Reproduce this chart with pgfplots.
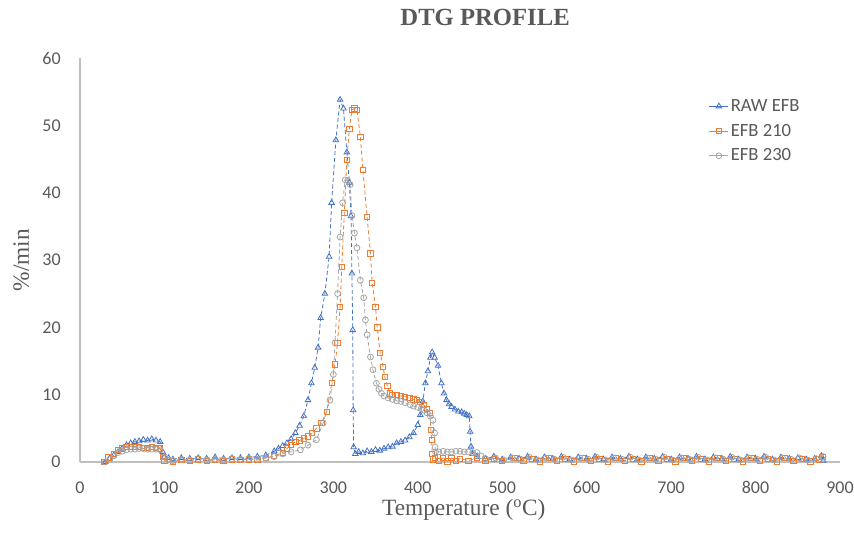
\documentclass[border=0pt]{standalone}
\usepackage{pgfplots}
\pgfplotsset{compat=1.18}
\usepackage{pgfplotstable}
\usepackage{fontspec}
\setmainfont{Carlito}
\newfontfamily\seriffont{Liberation Serif}

\definecolor{rawblue}{HTML}{4472C4}
\definecolor{efborange}{HTML}{ED7D31}
\definecolor{efbgray}{HTML}{A5A5A5}
\definecolor{txtgray}{HTML}{595959}
\definecolor{spinegray}{HTML}{BFBFBF}

% temperature (C)  rate (%/min)
\pgfplotstableread{
T r
30 0
35 0.5
40 1
45 1.5
50 2
55 2.5
60 2.8
65 3
70 3.1
75 3.3
80 3.2
85 3.4
90 3.2
95 3
98 1.5
100 0.8
105 0.6
110 0.4
120 0.6
130 0.5
140 0.6
150 0.5
160 0.7
170 0.5
180 0.6
190 0.6
200 0.7
210 0.8
220 1.0
230 1.6
235 2.0
240 2.4
245 2.8
250 3.4
255 4.3
260 5.4
265 6.8
270 9.2
274 11.7
278 14
282 17
285 21.4
290 25
295 30.5
298 38.5
303 47.8
308 53.8
312 52.5
316 46
319 41.5
321 36.5
322 28
323 19.6
323.5 7.7
324 2.2
326 1.2
330 1.5
335 1.3
340 1.6
345 1.5
350 1.8
355 1.7
360 2.0
365 2.2
370 2.3
375 2.8
380 3.0
385 3.2
390 3.7
395 4.3
400 5.5
403 7
406 9
409 11.7
412 13.5
415 15.5
417 16.3
420 15.5
424 14.3
428 11.7
431 10.2
434 9.2
437 8.6
440 8.2
444 7.8
448 7.5
452 7.4
455 7.2
458 7.0
461 6.8
462 4.5
463 2.3
465 1.2
470 0.8
480 0.5
490 0.8
500 0.4
510 0.7
520 0.5
530 0.8
540 0.4
550 0.7
560 0.5
570 0.8
580 0.4
590 0.7
600 0.5
610 0.8
620 0.4
630 0.7
640 0.5
650 0.8
660 0.4
670 0.7
680 0.5
690 0.8
700 0.4
710 0.7
720 0.5
730 0.8
740 0.4
750 0.7
760 0.5
770 0.8
780 0.4
790 0.7
800 0.5
810 0.8
820 0.4
830 0.7
840 0.5
850 0.6
860 0.4
870 0.5
878 0.9
880 0.2
}\rawefb

\pgfplotstableread{
T r
28 0
33 0.7
40 1.2
45 1.8
50 2.0
55 2.2
60 2.2
65 2.2
70 2.2
75 2.1
80 2.1
85 2.2
90 2.1
95 2.0
98 0.8
100 0.2
110 0.1
120 0.3
130 0.2
140 0.4
150 0.2
160 0.3
170 0.2
180 0.4
190 0.3
200 0.4
210 0.3
220 0.6
230 0.9
240 1.4
245 2.0
250 2.5
255 3.0
260 3.2
265 3.5
270 3.8
275 4.3
280 5.0
286 5.8
292 7.4
298 11.7
302 14.5
305 17.7
308 23
310 29
313 37
316 44.9
319 49.5
322 52.3
325 52.5
328 52.3
332 48.3
335 43.4
340 36.4
344 31
346 26.6
350 23
352 20
355.5 16.2
359 14.1
361 12.6
364 11.3
367 10.2
370 10
375 10
380 9.8
385 9.7
390 9.5
395 9.3
399 9.2
403 8.9
407 8.5
411 7.9
414 7.3
415.5 4.8
416.5 3.3
417 1.2
418 0.4
420 0.6
425 0.2
430 0.6
435 0.1
440 0.6
445 0.2
450 0.5
460 0.2
470 0.6
480 0.2
490 0.5
500 0.2
515 0.6
525 0.2
535 0.5
545 0.1
555 0.6
565 0.2
575 0.5
585 0.1
595 0.6
605 0.2
615 0.5
625 0.1
635 0.6
645 0.2
655 0.5
665 0.1
675 0.6
685 0.2
695 0.5
705 0.1
715 0.6
725 0.2
735 0.5
745 0.1
755 0.6
765 0.2
775 0.5
785 0.1
795 0.6
805 0.2
815 0.5
825 0.1
835 0.6
845 0.2
855 0.5
865 0.1
875 0.4
879 0.8
}\efbtwoten

\pgfplotstableread{
T r
30 0
35 0.4
40 0.9
45 1.4
50 1.6
55 1.8
60 1.9
65 1.9
70 2.0
75 2.0
80 1.9
85 1.9
90 1.9
95 1.8
100 0.8
105 0.3
110 0.2
120 0.4
130 0.3
140 0.5
150 0.3
160 0.4
170 0.3
180 0.5
190 0.4
200 0.5
210 0.4
220 0.6
230 0.8
240 1.2
250 1.5
261 1.8
270 2.5
280 3.3
288 5.8
296 9.2
300 13
302 17.7
305 25
308 33.4
311 38.5
314 41.9
317 41.8
320 41.2
322 36.6
325 34
328 31.8
332 27
336 24.4
338 21.1
340 18.9
344 15.6
347 13.7
351 11.7
354 10.8
357 10.2
360 9.8
365 9.5
370 9.3
375 9.1
380 9.0
385 8.8
391 8.5
395 8.3
400 8.1
404 7.9
407 7.7
411 7.3
415 6.8
418 6.2
420 4.3
420.5 2.2
421 1.5
425 1.5
430 1.6
435 1.5
440 1.5
445 1.6
450 1.6
455 1.5
460 1.5
465 1.4
470 1.4
475 0.9
480 0.5
492 0.6
502 0.3
512 0.6
522 0.4
532 0.7
542 0.3
552 0.6
562 0.4
572 0.7
582 0.3
592 0.6
602 0.4
612 0.7
622 0.3
632 0.6
642 0.4
652 0.7
662 0.3
672 0.6
682 0.4
692 0.7
702 0.3
712 0.6
722 0.4
732 0.7
742 0.3
752 0.6
762 0.4
772 0.7
782 0.3
792 0.6
802 0.4
812 0.7
822 0.3
832 0.6
842 0.4
852 0.6
862 0.3
872 0.5
880 0.8
}\efbtwothirty

\begin{document}
\begin{tikzpicture}
\begin{axis}[
  scale only axis,
  width=570pt, height=303pt,
  xmin=0, xmax=900, ymin=0, ymax=60,
  xtick={0,100,...,900},
  ytick={0,10,...,60},
  axis lines*=left,
  axis line style={spinegray, line width=0.8pt},
  major tick length=0pt,
  tick style={draw=none},
  /pgf/number format/assume math mode=true,
  ticklabel style={font=\fontsize{13.5}{16}\selectfont, text=txtgray},
  yticklabel style={anchor=east, xshift=-11pt},
  xticklabel style={anchor=north, yshift=-11pt},
  every axis x label/.style={at={(rel axis cs:0.505,0)}, yshift=-36pt, anchor=center},
  every axis y label/.style={at={(rel axis cs:0,0.5)}, xshift=-44pt, rotate=90, anchor=center},
  xlabel={\seriffont\fontsize{17.5}{20}\selectfont\color{txtgray}Temperature (\textsuperscript{o}C)},
  ylabel={\seriffont\fontsize{17.5}{20}\selectfont\color{txtgray}\%/min},
  title={\seriffont\bfseries\fontsize{18.5}{22}\selectfont\color{txtgray}DTG PROFILE},
  title style={at={(rel axis cs:0.533,1)}, yshift=24.5pt, anchor=center},
  legend style={draw=none, fill=none, at={(rel axis cs:0.822,0.91)}, anchor=north west,
    font=\fontsize{14}{16}\selectfont, text=txtgray, row sep=5pt,
    nodes={inner sep=1.5pt}},
  legend cell align=left,
  legend image code/.code={\draw[#1, mark=none, solid] (0cm,0cm) -- (0.5cm,0cm);
    \draw[#1, only marks, solid] plot coordinates {(0.25cm,0cm)};},
  every axis plot/.append style={line width=0.6pt, dash pattern=on 3pt off 2pt},
  clip=false,
]
\addplot[rawblue, mark=triangle, mark size=2.4pt, mark options={solid}] table[x=T, y=r] {\rawefb};
\addlegendentry{RAW EFB}
\addplot[efborange, mark=square, mark size=2pt, mark options={solid}] table[x=T, y=r] {\efbtwoten};
\addlegendentry{EFB 210}
\addplot[efbgray, mark=o, mark size=2.2pt, mark options={solid}] table[x=T, y=r] {\efbtwothirty};
\addlegendentry{EFB 230}
\coordinate (ll) at (rel axis cs:0,0);
\coordinate (ur) at (rel axis cs:1,1);
\end{axis}
\pgfresetboundingbox
\path ([shift={(-60pt,-54pt)}]ll) rectangle ([shift={(10.5pt,43.5pt)}]ur);
\end{tikzpicture}
\end{document}
